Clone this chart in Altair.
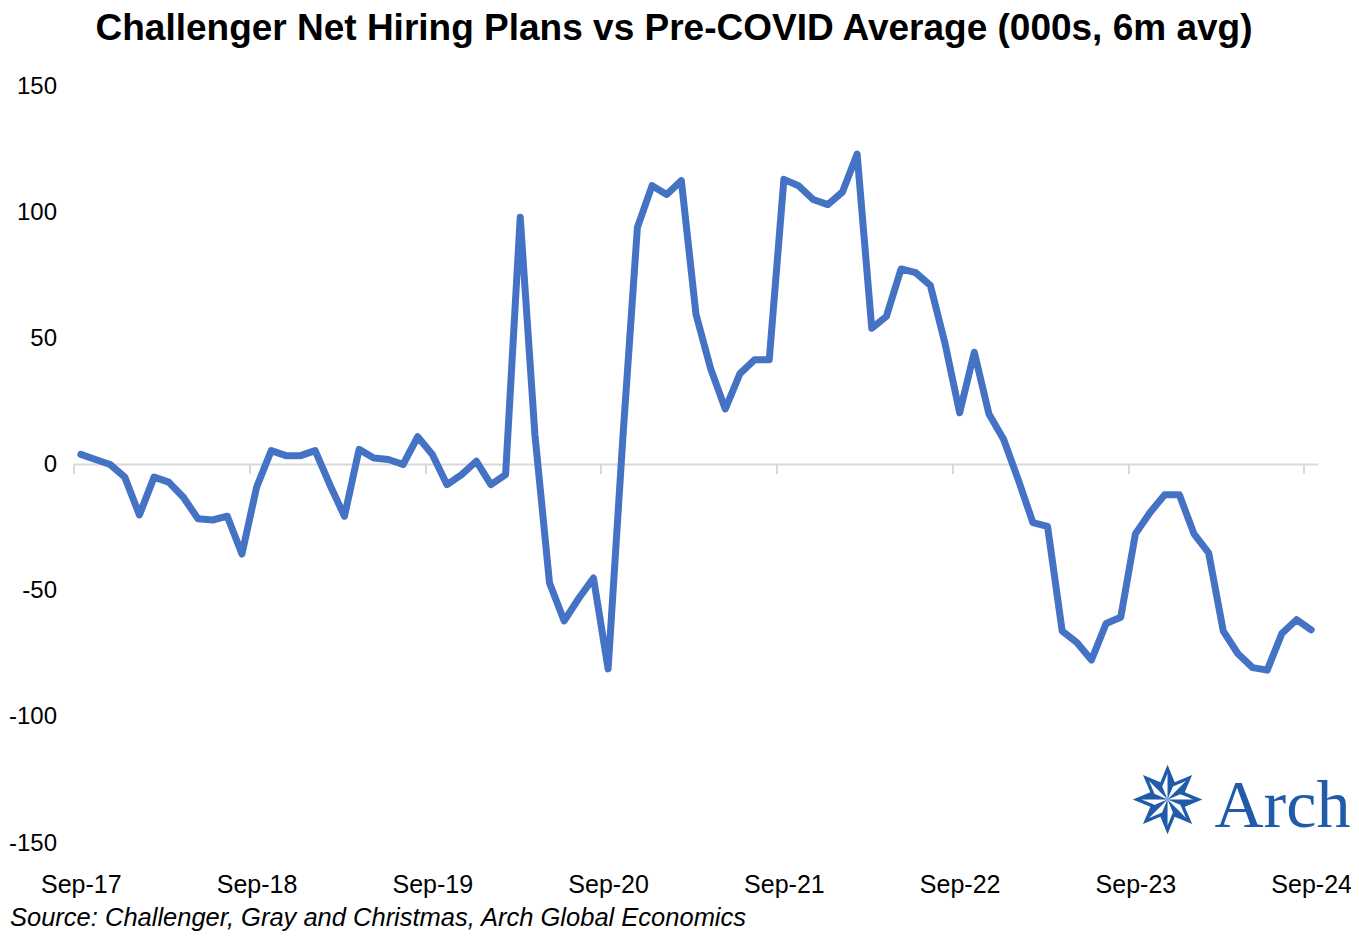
import altair as alt
import pandas as pd

# ---- data (monthly, Sep-17 .. Sep-24) ----
values = [
    4, 2, 0, -5, -20, -5, -7, -13, -21.5, -22, -20.5, -35.5,
    -9, 5.5, 3.5, 3.5, 5.5, -8, -20.5, 6, 2.6, 2, 0, 11,
    4, -8, -4, 1.3, -8, -4, 98, 12, -47, -62, -53, -45,
    -81, 10, 94, 110.5, 107, 112.5, 59.5, 38, 22, 36, 41.5, 41.5,
    113, 110.5, 105, 103, 108, 123, 54, 58.7, 77.5, 76, 71, 48,
    20.5, 44.5, 20, 10, -6, -23, -24.5, -66, -70.5, -77.5, -63, -60.5,
    -27.5, -19, -12, -12, -27.5, -35, -66, -75, -80.5, -81.5, -67, -61.5,
    -65.5,
]
tick_labels = ["Sep-17", "Sep-18", "Sep-19", "Sep-20", "Sep-21", "Sep-22", "Sep-23", "Sep-24"]
y_ticks = [-150, -100, -50, 0, 50, 100, 150]
title_text = "Challenger Net Hiring Plans vs Pre-COVID Average (000s, 6m avg)"
source_text = "Source: Challenger, Gray and Christmas, Arch Global Economics"

W, H = 1245, 757
n = len(values)
df = pd.DataFrame({"i": [k + 0.5 for k in range(n)], "v": values})
tick_pos = [12 * k for k in range(len(tick_labels))]
zero_df = pd.DataFrame({"x0": [0], "x1": [n], "y": [0]})

xscale = alt.Scale(domain=[0, n], nice=False, zero=False)
yscale = alt.Scale(domain=[-150, 150], nice=False, zero=False)

label_expr = "[" + ",".join(f"'{t}'" for t in tick_labels) + "][round(datum.value/12)]"
y_label_expr = "datum.value < 0 ? '-' + abs(datum.value) : '' + datum.value"
FONT = "Liberation Sans"
GRAY = "#d9d9d9"
BLUE_LOGO = "#1F5BA8"

y_axis = alt.Axis(
    orient="left", values=y_ticks, labelExpr=y_label_expr, domain=False, ticks=False,
    grid=False, labelPadding=17, labelFont=FONT, labelFontSize=24, labelColor="black",
    title=None)

zero_layer = alt.Chart(zero_df).mark_rule(color=GRAY, strokeWidth=2).encode(
    x=alt.X("x0:Q", scale=xscale, axis=alt.Axis(
        orient="bottom", offset=-H / 2, values=tick_pos, labels=False, domain=False,
        ticks=True, tickColor=GRAY, tickSize=9, tickWidth=2, grid=False, title=None)),
    x2="x1:Q",
    y=alt.Y("y:Q", scale=yscale, axis=y_axis),
)

line = alt.Chart(df).mark_line(
    color="#4472C4", strokeWidth=7, strokeJoin="round", strokeCap="round"
).encode(
    x=alt.X("i:Q", scale=xscale, axis=alt.Axis(
        orient="bottom", values=tick_pos, labelExpr=label_expr, labelOffset=W / n / 2,
        labelFlush=False, labelOverlap=False,
        ticks=False, domain=False, grid=False, labelPadding=29,
        labelFont=FONT, labelFontSize=25, labelColor="black",
        title=source_text, titleFont=FONT, titleFontSize=25.5, titleFontStyle="italic",
        titleFontWeight="normal", titleColor="black", titleAnchor="start",
        titleAlign="left", titleBaseline="alphabetic", titleX=-64, titleY=82)),
    y=alt.Y("v:Q", scale=yscale, axis=y_axis),
)

logo_df = pd.DataFrame({"t": ["Arch"]})
star_df = pd.DataFrame({"t": ["\u2735"]})
title_df = pd.DataFrame({"t": [title_text]})

logo_text = alt.Chart(logo_df).mark_text(
    font="Liberation Serif", fontSize=68, color=BLUE_LOGO, align="left", baseline="alphabetic"
).encode(
    x=alt.XDatum(77.9, scale=xscale, axis=None),
    y=alt.YDatum(-143.6, scale=yscale, axis=y_axis),
    text="t:N",
)
star = alt.Chart(star_df).mark_text(
    font="DejaVu Sans", fontSize=92, color=BLUE_LOGO, align="center", baseline="middle"
).encode(
    x=alt.XDatum(74.7, scale=xscale, axis=None),
    y=alt.YDatum(-135, scale=yscale, axis=y_axis),
    text="t:N",
)
title = alt.Chart(title_df).mark_text(
    font=FONT, fontSize=37, fontWeight="bold", color="black", align="center",
    baseline="alphabetic"
).encode(
    x=alt.value(600.5),
    y=alt.value(-46),
    text="t:N",
)

chart = alt.layer(zero_layer, line, logo_text, star, title).resolve_axis(x="independent").properties(
    width=W, height=H,
    padding={"left": 65.5, "top": 78, "right": 32, "bottom": 91},
    autosize=alt.AutoSizeParams(type="none"),
    background="white",
).configure_view(stroke=None)

chart.save("out.html", embed_options={"renderer": "svg", "actions": False})
